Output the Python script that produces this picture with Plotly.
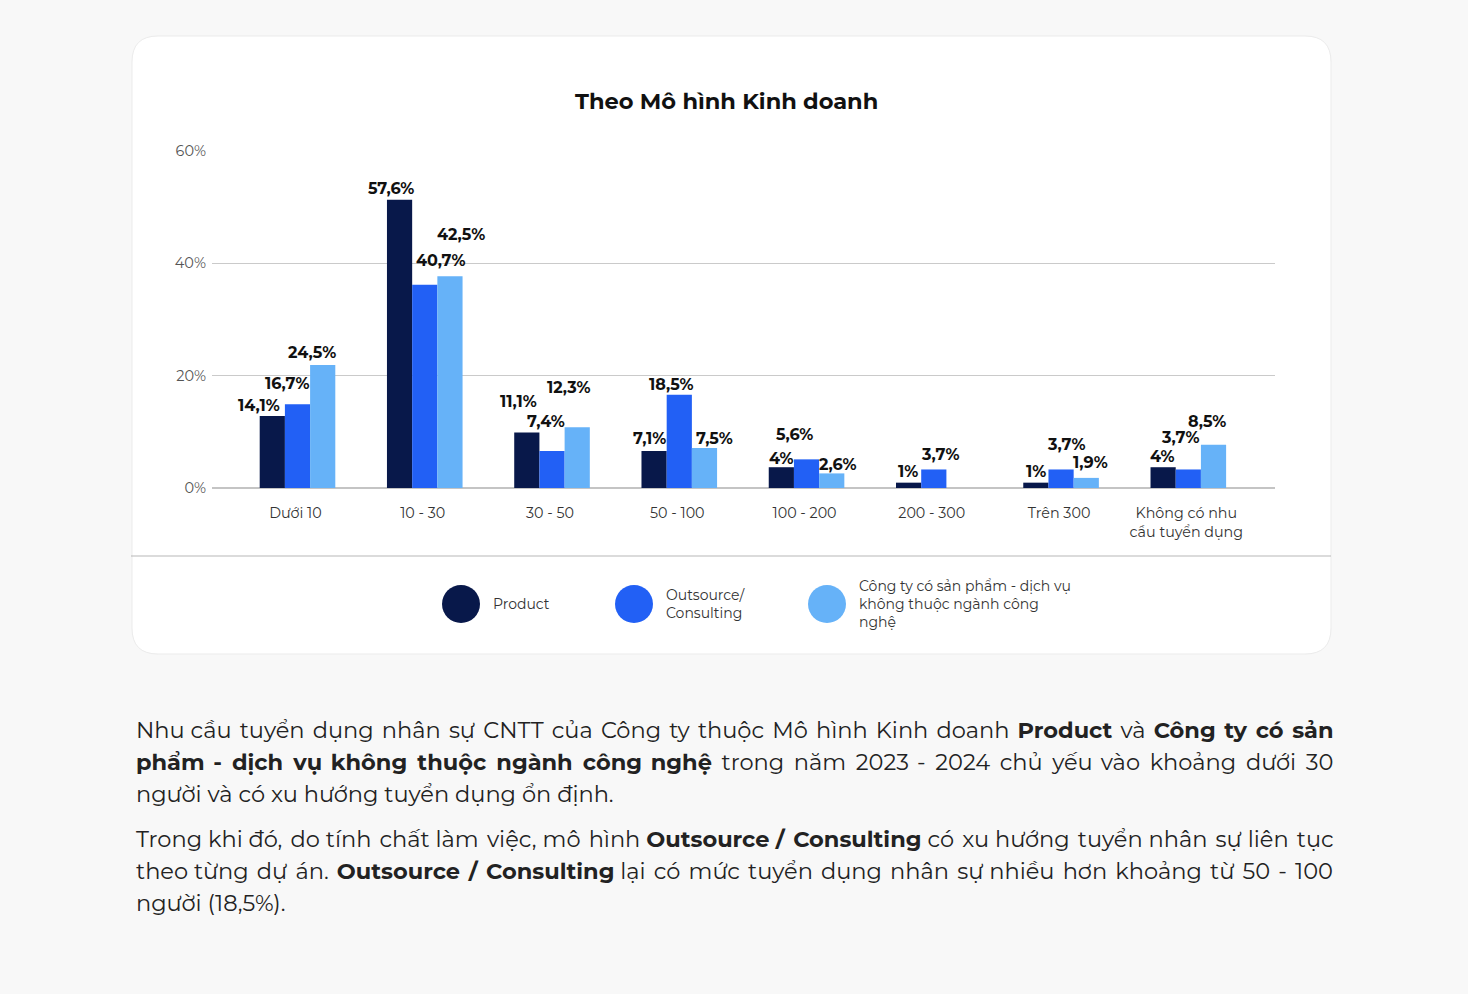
import plotly.graph_objects as go

W, H = 1468, 994

categories = ["Dưới 10", "10 - 30", "30 - 50", "50 - 100", "100 - 200",
              "200 - 300", "Trên 300", "Không có nhu<br>cầu tuyển dụng"]
series_names = ["Product", "Outsource/<br>Consulting",
                "Công ty có sản phẩm - dịch vụ<br>không thuộc ngành công<br>nghệ"]

# bar heights as drawn in the picture (in % of axis)
product_h = [12.8, 51.3, 9.9, 6.6, 3.7, 0.95, 0.95, 3.7]
outsource_h = [14.9, 36.2, 6.6, 16.6, 5.1, 3.3, 3.3, 3.3]
other_h = [21.9, 37.7, 10.8, 7.1, 2.6, None, 1.8, 7.7]

# value labels printed above bars
product_lbl = ["14,1%", "57,6%", "11,1%", "7,1%", "4%", "1%", "1%", "4%"]
outsource_lbl = ["16,7%", "40,7%", "7,4%", "18,5%", "5,6%", "3,7%", "3,7%", "3,7%"]
other_lbl = ["24,5%", "42,5%", "12,3%", "7,5%", "2,6%", None, "1,9%", "8,5%"]

y_ticks = [0, 20, 40, 60]
y_tick_text = ["0%", "20%", "40%", "60%"]

colors = ["#08184a", "#2260f5", "#66b2f8"]

# label offsets (px) relative to the top centre of each bar: (dx, dy)
label_offsets = [
    [(-13.3, 11), (-8.1, 11), (-8.3, 31), (-4.1, 12.7), (-0.3, 9), (-1.1, 11.3), (0.1, 11.3), (-1.1, 11)],
    [(-10.5, 20.8), (16.2, 24.3), (-6, 29.7), (-7.3, 10.7), (-12.5, 25), (6.2, 15), (5.4, 25), (-8.3, 31.5)],
    [(-11.2, 12.5), (11, 42), (-8.2, 40), (10.5, 9.7), (6.3, 9.3), (0, 0), (4.7, 15.2), (-6.5, 23.7)],
]

# plot area in pixels
PL, PR, PT, PB = 212, 1275, 151, 488
CAT_W = 127.26
BAR_W = 25.2


def px(x):
    return (x - PL) / (PR - PL)


def py(y):
    return (PB - y) / (PB - PT)


FONT = "Montserrat, 'Open Sans', 'Noto Sans', sans-serif"

fig = go.Figure()
heights = [product_h, outsource_h, other_h]
labels = [product_lbl, outsource_lbl, other_lbl]
for i in range(3):
    fig.add_trace(go.Bar(
        x=categories, y=heights[i], name=series_names[i],
        marker=dict(color=colors[i], line=dict(width=0)),
        showlegend=False, hoverinfo="skip",
    ))

annotations = []
bar_off = [-BAR_W, 0, BAR_W]
for i in range(3):
    for j, cat in enumerate(categories):
        t = labels[i][j]
        if t is None:
            continue
        dx, dy = label_offsets[i][j]
        annotations.append(dict(
            x=cat, y=heights[i][j], xref="x", yref="y", text="<b>" + t + "</b>",
            showarrow=False, xanchor="center", yanchor="middle",
            xshift=bar_off[i] + dx, yshift=dy,
            font=dict(family=FONT, size=16, color="#111111"),
        ))

# title
annotations.append(dict(
    x=px(726.5), y=py(101), xref="paper", yref="paper",
    text="<b>Theo Mô hình Kinh doanh</b>", showarrow=False,
    xanchor="center", yanchor="middle",
    font=dict(family=FONT, size=22.5, color="#111111"),
))

# legend
leg_cx = [461, 634, 827]
leg_tx = [491, 664, 857]
shapes = []
for i in range(3):
    r = 19
    shapes.append(dict(
        type="circle", xref="paper", yref="paper",
        x0=px(leg_cx[i] - r), x1=px(leg_cx[i] + r),
        y0=py(604 + r), y1=py(604 - r),
        fillcolor=colors[i], line=dict(width=0),
    ))
    annotations.append(dict(
        x=px(leg_tx[i]), y=py(604), xref="paper", yref="paper",
        text=series_names[i], showarrow=False, xanchor="left", yanchor="middle",
        align="left", font=dict(family=FONT, size=14, color="#333333"),
    ))

# card with rounded corners
L, R, T, B, rad = 132, 1331, 36, 654, 26
path = (
    f"M {px(L + rad)} {py(T)} L {px(R - rad)} {py(T)} "
    f"Q {px(R)} {py(T)} {px(R)} {py(T + rad)} "
    f"L {px(R)} {py(B - rad)} Q {px(R)} {py(B)} {px(R - rad)} {py(B)} "
    f"L {px(L + rad)} {py(B)} Q {px(L)} {py(B)} {px(L)} {py(B - rad)} "
    f"L {px(L)} {py(T + rad)} Q {px(L)} {py(T)} {px(L + rad)} {py(T)} Z"
)
shapes.insert(0, dict(type="path", xref="paper", yref="paper", path=path,
                      fillcolor="#ffffff", line=dict(color="#ebebeb", width=1),
                      layer="below"))
shapes.append(dict(type="line", xref="paper", yref="paper",
                   x0=px(131), x1=px(1331), y0=py(556), y1=py(556),
                   line=dict(color="#b8b8b8", width=1.2)))

# body text
body_lines = [
    "Nhu cầu tuyển dụng nhân sự CNTT của Công ty thuộc Mô hình Kinh doanh <b>Product</b> và <b>Công ty có sản</b>",
    "<b>phẩm - dịch vụ không thuộc ngành công nghệ</b> trong năm 2023 - 2024 chủ yếu vào khoảng dưới 30",
    "người và có xu hướng tuyển dụng ổn định.",
    "Trong khi đó, do tính chất làm việc, mô hình <b>Outsource / Consulting</b> có xu hướng tuyển nhân sự liên tục",
    "theo từng dự án. <b>Outsource / Consulting</b> lại có mức tuyển dụng nhân sự nhiều hơn khoảng từ 50 - 100",
    "người (18,5%).",
]
# extra spacing added into word gaps to imitate justified text: (six-per-em, hair)
HAIR, SIXTH = "\u200a", "\u2006"
justify_spec = [(0, 19), (14, 5), (0, 0), (0, 9), (0, 17), (0, 0)]


def spread(n, g):
    return [((k + 1) * n) // g - (k * n) // g for k in range(g)] if g else []


def justify(text, n_sixth, n_hair):
    parts = text.split(" ")
    g = len(parts) - 1
    if g <= 0 or (n_sixth == 0 and n_hair == 0):
        return text
    extras = [""] * g
    s = spread(n_sixth, g)
    free = []
    for k in range(g):
        if s[k]:
            extras[k] = SIXTH
        else:
            free.append(k)
    h = spread(n_hair, len(free))
    for idx, k in enumerate(free):
        if h[idx]:
            extras[k] = HAIR
    out = parts[0]
    for k, p in enumerate(parts[1:]):
        out += " " + extras[k] + p
    return out


body_y = [730, 762, 794, 839, 871, 903]
for t, (ns, nh), yy in zip(body_lines, justify_spec, body_y):
    annotations.append(dict(
        x=px(134), y=py(yy), xref="paper", yref="paper", text=justify(t, ns, nh),
        showarrow=False, xanchor="left", yanchor="middle", align="left",
        font=dict(family=FONT, size=22.5, color="#222222"),
    ))

x0 = (PL - 297.5) / CAT_W
fig.update_layout(
    width=W, height=H,
    margin=dict(l=PL, r=W - PR, t=PT, b=H - PB, pad=0),
    paper_bgcolor="#f8f8f8", plot_bgcolor="rgba(0,0,0,0)",
    barmode="group", bargap=1 - 3 * BAR_W / CAT_W, bargroupgap=0,
    annotations=annotations, shapes=shapes,
    font=dict(family=FONT),
    xaxis=dict(
        range=[x0, x0 + (PR - PL) / CAT_W], showgrid=False, zeroline=False,
        showline=False, ticks="", ticklabelstandoff=15, ticklabelshift=-2,
        fixedrange=True,
        tickfont=dict(family=FONT, size=14.3, color="#333333"),
    ),
    yaxis=dict(
        range=[0, 60], tickmode="array", tickvals=y_ticks, ticktext=y_tick_text,
        showgrid=True, gridcolor="#cacaca", gridwidth=1,
        zeroline=True, zerolinecolor="#c4c4c4", zerolinewidth=1.5,
        showline=False, ticks="", ticklabelstandoff=5, ticklabelshift=0,
        fixedrange=True,
        tickfont=dict(family=FONT, size=14.5, color="#555555"),
    ),
)

fig.write_html("out.html")
